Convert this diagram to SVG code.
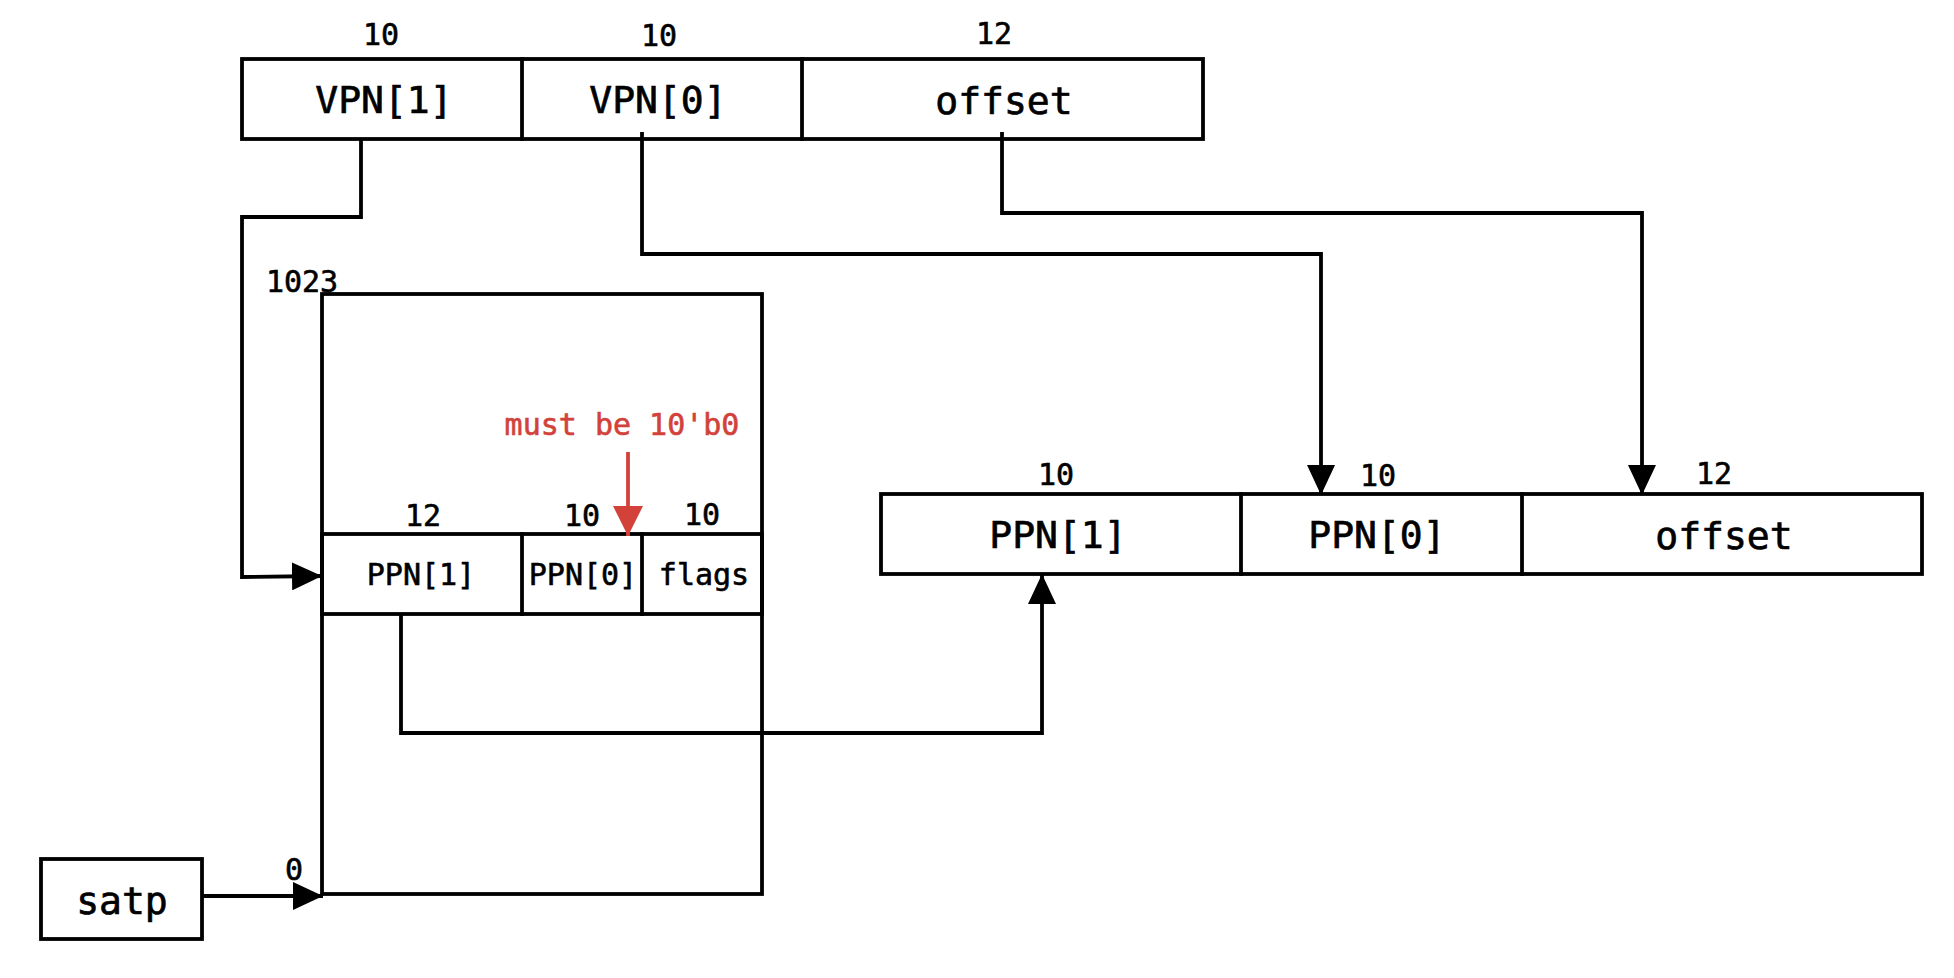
<svg xmlns="http://www.w3.org/2000/svg" width="1954" height="978" viewBox="0 0 1954 978">
  <style>
    .box { fill: none; stroke: #000; stroke-width: 3.8; stroke-linecap: square; }
    .wire { fill: none; stroke: #000; stroke-width: 3.8; }
    .red { fill: none; stroke: #d2423a; stroke-width: 3.8; }
    .big { font-family: "DejaVu Sans Mono", "Liberation Mono", monospace; font-size: 38px; fill: #000; stroke: #000; stroke-width: 0.7; text-anchor: middle; }
    .small { font-family: "DejaVu Sans Mono", "Liberation Mono", monospace; font-size: 30px; fill: #000; stroke: #000; stroke-width: 0.6; text-anchor: middle; }
    .note { font-family: "DejaVu Sans Mono", "Liberation Mono", monospace; font-size: 30px; fill: #d2423a; stroke: #d2423a; stroke-width: 0.6; text-anchor: middle; }
  </style>
  <defs>
    <marker id="arrow" markerUnits="userSpaceOnUse" markerWidth="30" markerHeight="28" refX="30" refY="14" orient="auto">
      <path d="M0,0 L30,14 L0,28 z" fill="#000"/>
    </marker>
    <marker id="arrow-red" markerUnits="userSpaceOnUse" markerWidth="30" markerHeight="30" refX="30" refY="15" orient="auto">
      <path d="M0,0 L30,15 L0,30 z" fill="#d2423a"/>
    </marker>
  </defs>
  <rect width="1954" height="978" fill="#fff"/>

  <!-- virtual address -->
  <g id="va">
    <rect class="box" x="242" y="59" width="961" height="80"/>
    <line class="box" x1="522" y1="59" x2="522" y2="139"/>
    <line class="box" x1="802" y1="59" x2="802" y2="139"/>
    <text class="small" x="381" y="45">10</text>
    <text class="small" x="659" y="46">10</text>
    <text class="small" x="994" y="44">12</text>
    <text class="big" x="384" y="113">VPN[1]</text>
    <text class="big" x="658" y="113">VPN[0]</text>
    <text class="big" x="1004" y="114">offset</text>
  </g>

  <!-- page table -->
  <g id="page-table">
    <rect class="box" x="322" y="294" width="440" height="600"/>
    <text class="small" x="302" y="292">1023</text>
    <text class="small" x="294" y="880">0</text>
  </g>

  <!-- page table entry -->
  <g id="pte">
    <rect class="box" x="322" y="534" width="440" height="80"/>
    <line class="box" x1="522" y1="534" x2="522" y2="614"/>
    <line class="box" x1="642" y1="534" x2="642" y2="614"/>
    <text class="small" x="423" y="526">12</text>
    <text class="small" x="582" y="526">10</text>
    <text class="small" x="702" y="525">10</text>
    <text class="small" x="421" y="585">PPN[1]</text>
    <text class="small" x="583" y="585">PPN[0]</text>
    <text class="small" x="704" y="585">flags</text>
  </g>

  <!-- note -->
  <g id="note">
    <text class="note" x="622" y="435">must be 10'b0</text>
    <line class="red" x1="628" y1="452" x2="628" y2="536" marker-end="url(#arrow-red)"/>
  </g>

  <!-- physical address -->
  <g id="pa">
    <rect class="box" x="881" y="494" width="1041" height="80"/>
    <line class="box" x1="1241" y1="494" x2="1241" y2="574"/>
    <line class="box" x1="1522" y1="494" x2="1522" y2="574"/>
    <text class="small" x="1056" y="485">10</text>
    <text class="small" x="1378" y="486">10</text>
    <text class="small" x="1714" y="484">12</text>
    <text class="big" x="1058" y="548">PPN[1]</text>
    <text class="big" x="1377" y="548">PPN[0]</text>
    <text class="big" x="1724" y="549">offset</text>
  </g>

  <!-- satp register -->
  <g id="satp">
    <rect class="box" x="41" y="859" width="161" height="80"/>
    <text class="big" x="122" y="914">satp</text>
  </g>

  <!-- connectors -->
  <g id="connectors">
    <polyline class="wire" points="361,139 361,217 242,217 242,577 322,576" marker-end="url(#arrow)"/>
    <polyline class="wire" points="642,132 642,254 1321,254 1321,495" marker-end="url(#arrow)"/>
    <polyline class="wire" points="1002,132 1002,213 1642,213 1642,495" marker-end="url(#arrow)"/>
    <polyline class="wire" points="401,614 401,733 1042,733 1042,574" marker-end="url(#arrow)"/>
    <line class="wire" x1="202" y1="896" x2="323" y2="896" marker-end="url(#arrow)"/>
  </g>
</svg>
